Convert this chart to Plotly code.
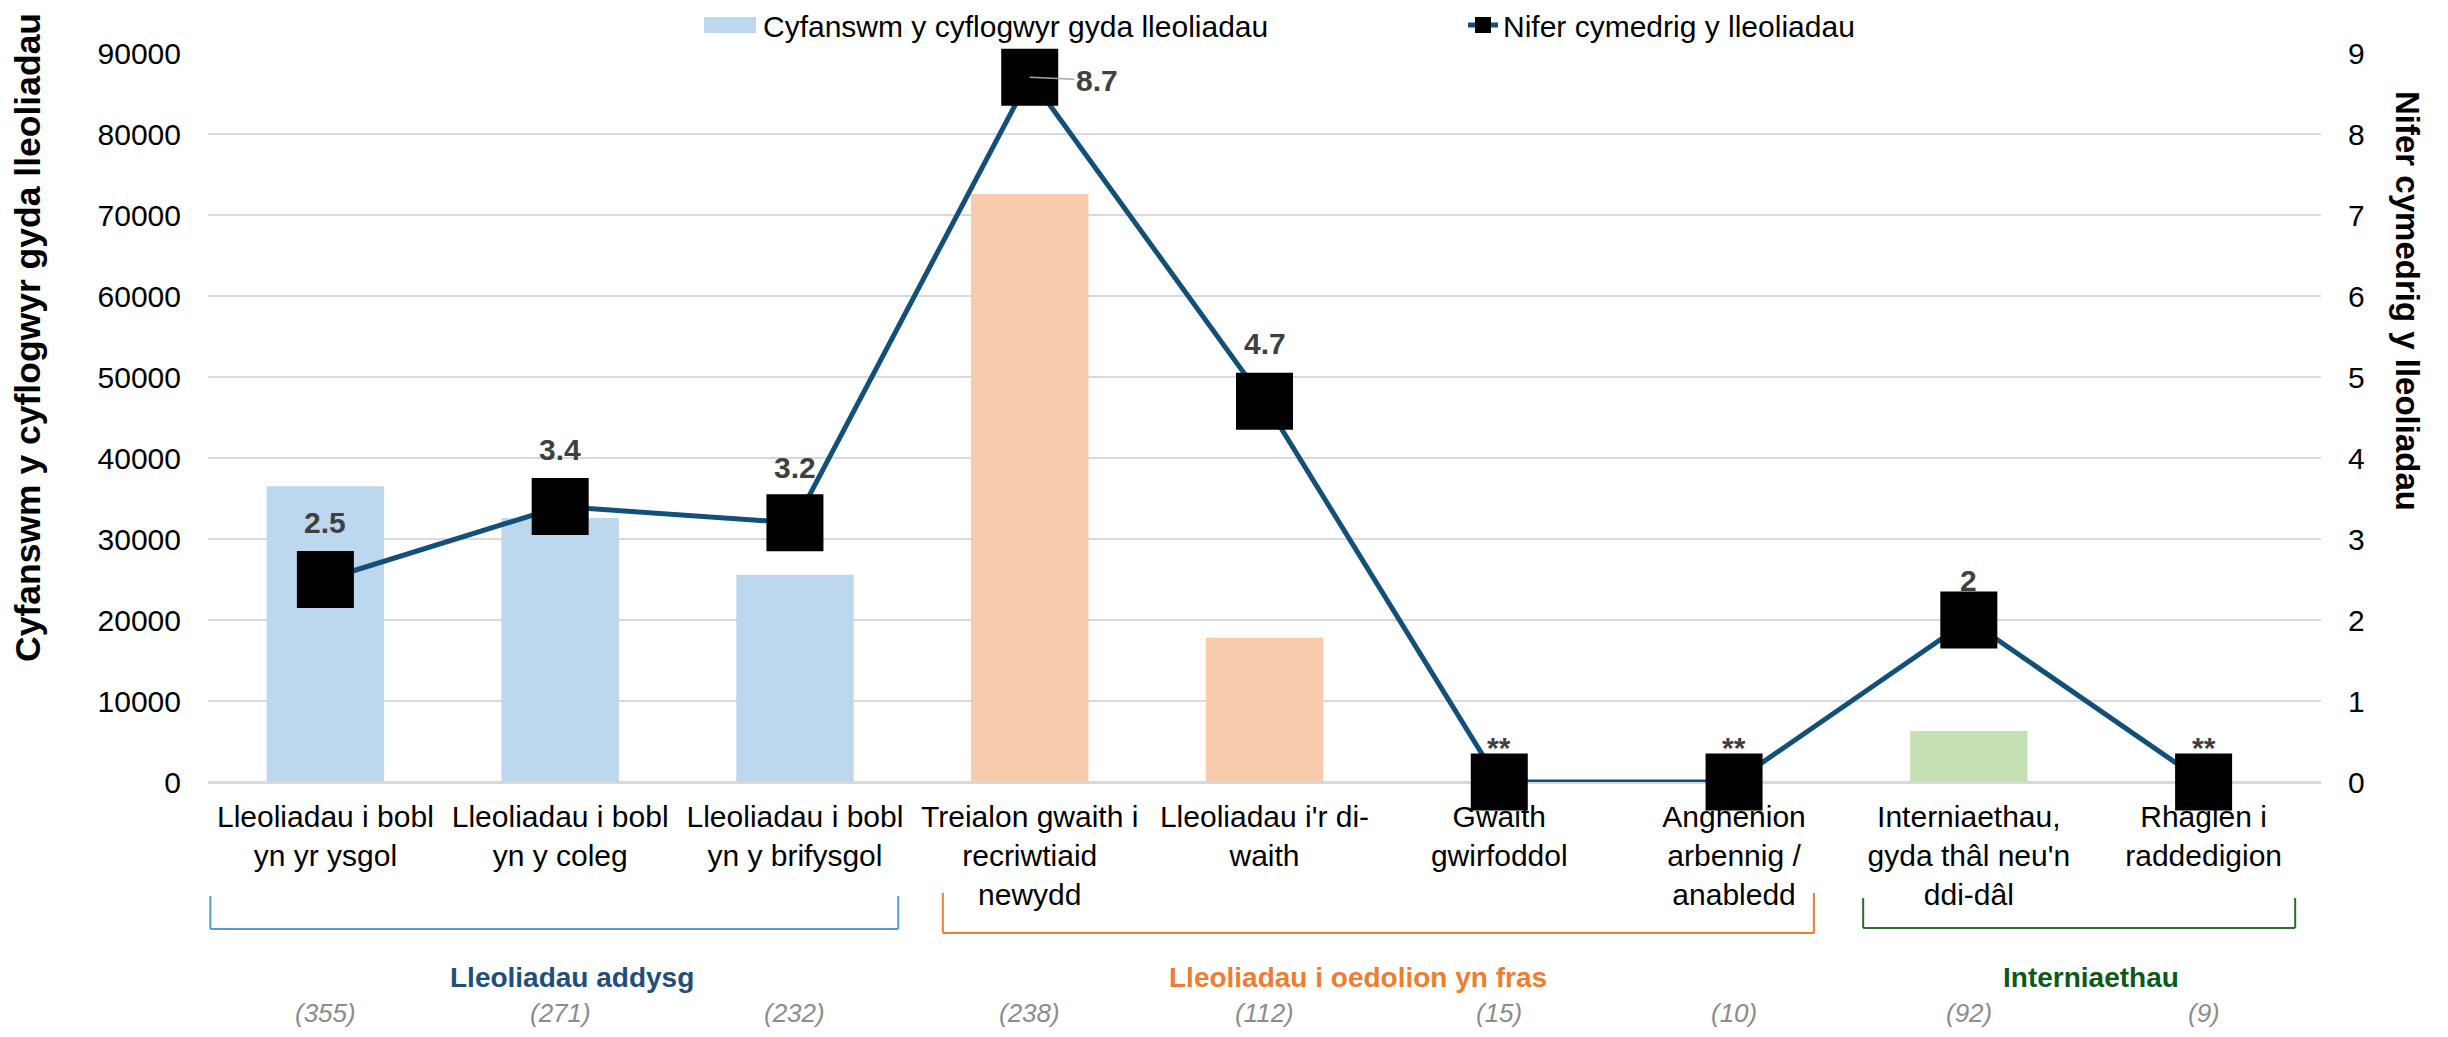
import plotly.graph_objects as go

# data
categories = [
    "Lleoliadau i bobl<br>yn yr ysgol",
    "Lleoliadau i bobl<br>yn y coleg",
    "Lleoliadau i bobl<br>yn y brifysgol",
    "Treialon gwaith i<br>recriwtiaid<br>newydd",
    "Lleoliadau i'r di-<br>waith",
    "Gwaith<br>gwirfoddol",
    "Anghenion<br>arbennig /<br>anabledd",
    "Interniaethau,<br>gyda thâl neu'n<br>ddi-dâl",
    "Rhaglen i<br>raddedigion",
]
total_employers = [36500, 32600, 25600, 72600, 17800, None, None, 6300, None]
mean_placements = [2.5, 3.4, 3.2, 8.7, 4.7, 0, 0, 2.0, 0]
mean_labels = ["2.5", "3.4", "3.2", "8.7", "4.7", "**", "**", "2", "**"]
counts = ["(355)", "(271)", "(232)", "(238)", "(112)", "(15)", "(10)", "(92)", "(9)"]

group_names = ["Lleoliadau addysg", "Lleoliadau i oedolion yn fras", "Interniaethau"]

bar_name = "Cyfanswm y cyflogwyr gyda lleoliadau"
line_name = "Nifer cymedrig y lleoliadau"

# styles
FONT = "Liberation Sans, Arial, sans-serif"
bar_colors = ["#BDD7EE"] * 3 + ["#F8CBAD"] * 4 + ["#C5E0B4"] * 2
group_text_colors = ["#1F4E79", "#ED7D31", "#0B5A1A"]
group_line_colors = ["#5B9BD5", "#ED7D31", "#2E6B2E"]
label_yshift = [57, 57, 55, 0, 58, 35, 35, 40, 35]
bracket_x = [(-0.49, 2.44), (2.63, 6.34), (6.55, 8.39)]
bracket_y = [(896, 929), (893, 933), (898, 928)]
group_label_x = [1.05, 4.4, 7.52]

# the page body has an 8px margin, so the figure is 16px smaller than the window
OFF = 8
W, H = 2448 - 2 * OFF, 1037 - 2 * OFF
M_L, M_T = 208 - OFF, 53 - OFF
M_R = W - (2321 - OFF)
M_B = H - (782 - OFF)
plot_w = W - M_L - M_R
plot_h = H - M_T - M_B


def py(page_y):
    # page pixel -> paper y
    return (H - M_B - (page_y - OFF)) / plot_h


def px(page_x):
    # page pixel -> paper x
    return (page_x - OFF - M_L) / plot_w


x_idx = list(range(len(categories)))

fig = go.Figure()

fig.add_trace(go.Bar(
    x=x_idx,
    y=total_employers,
    name=bar_name,
    marker=dict(color=bar_colors, line=dict(width=0)),
    yaxis="y",
))

fig.add_trace(go.Scatter(
    x=x_idx,
    y=mean_placements,
    name=line_name,
    mode="lines+markers",
    line=dict(color="#12507A", width=5),
    marker=dict(symbol="square", size=57, color="black", line=dict(width=0)),
    yaxis="y2",
    cliponaxis=False,
))

annotations = []

# data labels on the line
for i, (v, lab) in enumerate(zip(mean_placements, mean_labels)):
    if lab == "8.7":
        annotations.append(dict(
            x=i, y=v, xref="x", yref="y2", text=f"<b>{lab}</b>",
            showarrow=True, arrowhead=0, arrowwidth=1.5, arrowcolor="#A6A6A6",
            ax=67, ay=3, standoff=0,
            font=dict(family=FONT, size=30, color="#404040"),
        ))
    else:
        annotations.append(dict(
            x=i, y=v, xref="x", yref="y2", text=f"<b>{lab}</b>",
            showarrow=False, yshift=label_yshift[i],
            xanchor="center", yanchor="middle",
            font=dict(family=FONT, size=30, color="#404040"),
        ))

# sample sizes under categories
for i, c in enumerate(counts):
    annotations.append(dict(
        x=i, y=py(1013), xref="x", yref="paper", text=f"<i>{c}</i>",
        showarrow=False, xanchor="center", yanchor="middle",
        font=dict(family=FONT, size=26, color="#8C8C8C"),
    ))

# group brackets and labels
shapes = []
for g, name in enumerate(group_names):
    x0, x1 = bracket_x[g]
    ytop, ybot = py(bracket_y[g][0]), py(bracket_y[g][1])
    lc = dict(color=group_line_colors[g], width=2)
    for (ax0, ay0, ax1, ay1) in [(x0, ytop, x0, ybot), (x0, ybot, x1, ybot), (x1, ybot, x1, ytop)]:
        shapes.append(dict(type="line", xref="x", yref="paper",
                           x0=ax0, y0=ay0, x1=ax1, y1=ay1, line=lc, layer="above"))
    annotations.append(dict(
        x=group_label_x[g], y=py(977), xref="x", yref="paper", text=f"<b>{name}</b>",
        showarrow=False, xanchor="center", yanchor="middle",
        font=dict(family=FONT, size=28, color=group_text_colors[g]),
    ))

# wider legend swatch for the bars, as in the reference
shapes.append(dict(type="rect", xref="paper", yref="paper",
                   x0=px(704), x1=px(756), y0=py(33), y1=py(17),
                   fillcolor="#BDD7EE", line=dict(width=0), layer="above"))

# axis titles placed as annotations (they sit above the plot centre in the reference)
annotations.append(dict(
    x=px(28), y=py(338), xref="paper", yref="paper", text=f"<b>{bar_name}</b>",
    textangle=-90, showarrow=False, xanchor="center", yanchor="middle",
    font=dict(family=FONT, size=35.5, color="black"),
))
annotations.append(dict(
    x=px(2408), y=py(301), xref="paper", yref="paper", text=f"<b>{line_name}</b>",
    textangle=90, showarrow=False, xanchor="center", yanchor="middle",
    font=dict(family=FONT, size=33, color="black"),
))

fig.update_layout(
    width=W,
    height=H,
    margin=dict(l=M_L, r=M_R, t=M_T, b=M_B, autoexpand=False),
    paper_bgcolor="white",
    plot_bgcolor="white",
    font=dict(family=FONT, size=30, color="black"),
    bargap=0.5,
    showlegend=True,
    legend=dict(
        orientation="h",
        xref="container",
        yref="container",
        x=(723 - OFF) / W,
        xanchor="left",
        y=1 - (25 - OFF) / H,
        yanchor="middle",
        font=dict(family=FONT, size=30, color="black"),
        entrywidth=695,
        bgcolor="rgba(0,0,0,0)",
    ),
    xaxis=dict(
        tickmode="array",
        tickvals=x_idx,
        ticktext=categories,
        range=[-0.5, len(categories) - 0.5],
        showgrid=False,
        showline=False,
        ticks="",
        automargin=False,
        tickfont=dict(family=FONT, size=30, color="black"),
        ticklabelstandoff=14,
    ),
    yaxis=dict(
        range=[0, 90000],
        dtick=10000,
        showgrid=True,
        gridcolor="#D9D9D9",
        gridwidth=2,
        zeroline=True,
        zerolinecolor="#D9D9D9",
        zerolinewidth=3,
        showline=False,
        ticks="",
        automargin=False,
        tickformat="d",
        tickfont=dict(family=FONT, size=30, color="black"),
        ticklabelstandoff=26,
    ),
    yaxis2=dict(
        range=[0, 9],
        dtick=1,
        overlaying="y",
        side="right",
        showgrid=False,
        zeroline=False,
        showline=False,
        ticks="",
        automargin=False,
        tickfont=dict(family=FONT, size=30, color="black"),
        ticklabelstandoff=26,
    ),
    annotations=annotations,
    shapes=shapes,
)

fig.write_html("out.html")
